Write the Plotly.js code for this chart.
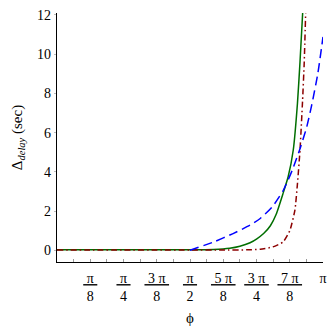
<!DOCTYPE html>
<html>
<head>
<meta charset="utf-8">
<script src="https://cdn.plot.ly/plotly-3.0.1.min.js"></script>
<style>
  html, body { margin: 0; padding: 0; background: #fff; }
  #chart { width: 332px; height: 332px; }
</style>
</head>
<body>
<div id="chart"></div>
<script>
// values (x in radians)
const greenX = [0, 0.39, 0.79, 1.18, 1.571, 1.85, 2.04, 2.16, 2.28, 2.36, 2.44, 2.52, 2.59, 2.67, 2.73, 2.79, 2.84, 2.87, 2.902];
const greenY = [0.02, 0.02, 0.02, 0.02, 0.02, 0.04, 0.1, 0.2, 0.38, 0.58, 0.85, 1.25, 1.85, 2.9, 3.75, 5.1, 7.5, 9.6, 12.15];

const redX = [0, 0.39, 0.79, 1.18, 1.571, 1.96, 2.24, 2.40, 2.55, 2.67, 2.75, 2.81, 2.84, 2.87, 2.90, 2.92, 2.937];
const redY = [0.01, 0.01, 0.01, 0.01, 0.01, 0.01, 0.02, 0.05, 0.17, 0.42, 1.0, 2.05, 3.4, 5.1, 7.6, 9.6, 12.15];

const blueX = [1.571, 1.85, 2.08, 2.28, 2.40, 2.54, 2.673, 2.78, 2.878, 2.95, 3.008, 3.08, 3.1416];
const blueY = [0, 0.42, 0.85, 1.28, 1.62, 2.2, 3.06, 4.1, 5.28, 6.3, 7.4, 9.0, 10.88];

// x ticks every pi/16, labels on the pi/8 ones
const tickNums = ['', 'π', '', 'π', '', '3 π', '', 'π', '', '5 π', '', '3 π', '', '7 π', '', 'π'];
const tickDens = ['', '8', '', '4', '', '8', '', '2', '', '8', '', '4', '', '8', '', ''];
const yTicks = [0, 2, 4, 6, 8, 10, 12];

const tickVals = tickNums.map((_, i) => (i + 1) * Math.PI / 16);
const tickText = tickNums.map((num, i) => {
  if (!num) return '';
  if (!tickDens[i]) return num + '<br>\u00a0';
  return '<span style="text-decoration:underline">\u00a0' + num + '\u00a0</span><br>' + tickDens[i];
});

const serif = 'Liberation Serif, Times New Roman, serif';

const data = [
  {
    x: greenX, y: greenY, mode: 'lines',
    line: { color: 'rgb(0,110,0)', width: 1.5, shape: 'spline', smoothing: 0.5 },
    hoverinfo: 'skip'
  },
  {
    x: redX, y: redY, mode: 'lines',
    line: { color: 'rgb(140,0,0)', width: 1.5, dash: '6px,3px,1.5px,3px', shape: 'spline', smoothing: 0.5 },
    hoverinfo: 'skip'
  },
  {
    x: blueX, y: blueY, mode: 'lines',
    line: { color: 'rgb(0,0,255)', width: 1.5, dash: '9px,5px', shape: 'spline', smoothing: 0.6 },
    hoverinfo: 'skip'
  }
];

const layout = {
  width: 332, height: 332,
  margin: { l: 57, r: 9, t: 13, b: 70 },
  showlegend: false,
  paper_bgcolor: '#fff', plot_bgcolor: '#fff',
  font: { family: serif, size: 14, color: '#000' },
  xaxis: {
    range: [0, Math.PI],
    tickmode: 'array', tickvals: tickVals, ticktext: tickText,
    ticks: 'inside', ticklen: 3, tickcolor: '#999', tickwidth: 1,
    ticklabelstandoff: 3,
    showline: true, linecolor: '#000', linewidth: 1.3,
    showgrid: false, zeroline: false,
    title: { text: 'ϕ', font: { family: serif, size: 15 }, standoff: 9 }
  },
  yaxis: {
    range: [-0.6, 12.1],
    tickmode: 'array', tickvals: yTicks,
    ticks: 'outside', ticklen: 2, tickcolor: '#bbb',
    showline: true, linecolor: '#000', linewidth: 1.3,
    showgrid: false, zeroline: false,
    title: { text: 'Δ<sub><i>delay</i></sub> (sec)', font: { family: serif, size: 15 }, standoff: 10 }
  }
};

Plotly.newPlot('chart', data, layout, { staticPlot: true });
</script>
</body>
</html>
